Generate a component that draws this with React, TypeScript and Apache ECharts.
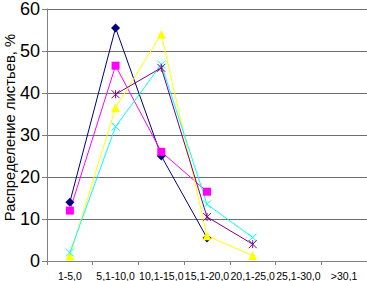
import React, { useEffect, useRef } from "react";
import * as echarts from "echarts";

const categories = ["1-5,0", "5,1-10,0", "10,1-15,0", "15,1-20,0", "20,1-25,0", "25,1-30,0", ">30,1"];
const navyValues = [14, 55.5, 25, 5.5, null, null, null];
const magentaValues = [12, 46.5, 26, 16.5, null, null, null];
const yellowValues = [1.2, 36.5, 54, 6, 1.3, null, null];
const cyanValues = [2, 32, 46.8, 13.5, 5.6, null, null];
const purpleValues = [null, 39.7, 46, 10.5, 4, null, null];
const yTicks = { min: 0, max: 60, interval: 10 };
const yTitle = "Распределение листьев, %";

const X_PATH = "path://M0,0L10,10M10,0L0,10";
const STAR_PATH = "path://M0,0L10,10M10,0L0,10M5,0L5,10";

export default function App() {
  const ref = useRef<HTMLDivElement>(null);
  useEffect(() => {
    const chart = echarts.init(ref.current!, null, { renderer: "svg" });
    const mk = (data: (number | null)[], color: string, symbol: string, size: number, stroke = false) => ({
      type: "line",
      data,
      symbol,
      symbolSize: size,
      showAllSymbol: true,
      connectNulls: false,
      lineStyle: { color, width: 1 },
      itemStyle: stroke
        ? { color: color, borderColor: color, borderWidth: 1 }
        : { color, borderWidth: 0 },
    });
    chart.setOption({
      animation: false,
      grid: { left: 47, right: 0, top: 7, bottom: 19 },
      graphic: [
        {
          type: "text",
          x: 10,
          y: 127.5,
          rotation: Math.PI / 2,
          style: {
            text: yTitle,
            fontFamily: "Liberation Sans, Arial",
            fontSize: 14.8,
            fill: "#000",
            align: "center",
            verticalAlign: "middle",
          },
        },
      ],
      xAxis: {
        type: "category",
        data: categories,
        boundaryGap: true,
        axisLine: { lineStyle: { color: "#808080" } },
        axisTick: { show: true, length: 4, lineStyle: { color: "#808080" } },
        axisLabel: {
          interval: 0,
          hideOverlap: false,
          fontFamily: "Liberation Sans, Arial",
          fontSize: 10.5,
          color: "#000",
          margin: 9,
        },
      },
      yAxis: {
        type: "value",
        min: yTicks.min,
        max: yTicks.max,
        interval: yTicks.interval,
        axisLine: { show: true, lineStyle: { color: "#808080" } },
        axisTick: { show: true, length: 5, lineStyle: { color: "#808080" } },
        splitLine: { lineStyle: { color: "#6e6e6e" } },
        axisLabel: { fontFamily: "Liberation Sans, Arial", fontSize: 18, color: "#000", margin: 7 },
      },
      series: [
        mk(navyValues, "#000080", "diamond", 9),
        mk(magentaValues, "#FF00FF", "rect", 8),
        mk(yellowValues, "#FFFF00", "triangle", 9),
        mk(cyanValues, "#00FFFF", X_PATH, 8, true),
        mk(purpleValues, "#800080", STAR_PATH, 8, true),
      ],
    });
    return () => chart.dispose();
  }, []);
  return <div ref={ref} style={{ position: "absolute", left: 0, top: 0, width: 367, height: 281 }} />;
}
